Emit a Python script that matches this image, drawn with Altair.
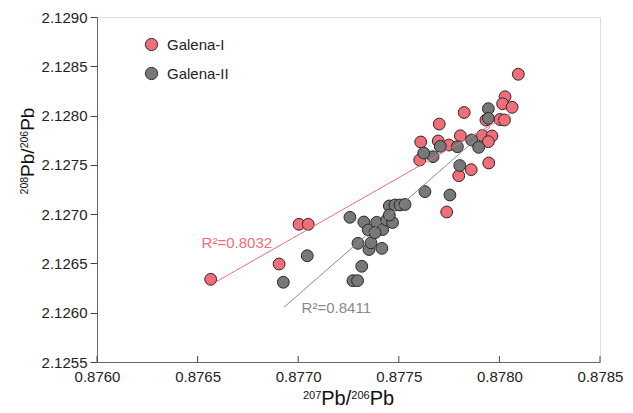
import altair as alt
import pandas as pd

# Galena-I (red)
g1_x = [0.876565, 0.876905, 0.877004, 0.877050, 0.878094, 0.878028, 0.878016, 0.878063,
        0.877825, 0.877701, 0.877933, 0.878003, 0.878025, 0.877806, 0.877916, 0.877963,
        0.877945, 0.877696, 0.877749, 0.877609, 0.877604, 0.877947, 0.877860, 0.877798,
        0.877738]
g1_y = [2.126339, 2.126494, 2.126897, 2.126897, 2.128419, 2.128191, 2.128120, 2.128084,
        2.128031, 2.127914, 2.127955, 2.127960, 2.127955, 2.127795, 2.127798, 2.127793,
        2.127735, 2.127742, 2.127701, 2.127732, 2.127549, 2.127519, 2.127451, 2.127390,
        2.127022]

# Galena-II (gray)
g2_x = [0.876926, 0.877045, 0.877257, 0.877316, 0.877272, 0.877295, 0.877297, 0.877352,
        0.877416, 0.877362, 0.877326, 0.877348, 0.877390, 0.877420, 0.877382, 0.877440,
        0.877469, 0.877453, 0.877481, 0.877506, 0.877531, 0.877453, 0.877630, 0.877754,
        0.877945, 0.877945, 0.877706, 0.877670, 0.877624, 0.877862, 0.877897, 0.877803,
        0.877791]
g2_y = [2.126309, 2.126578, 2.126968, 2.126471, 2.126325, 2.126325, 2.126704, 2.126641,
        2.126653, 2.126709, 2.126920, 2.126839, 2.126917, 2.126844, 2.126812, 2.126941,
        2.126915, 2.127083, 2.127093, 2.127093, 2.127098, 2.126991, 2.127228, 2.127194,
        2.128070, 2.127972, 2.127688, 2.127583, 2.127620, 2.127752, 2.127678, 2.127493,
        2.127684]

groups = ["Galena-I", "Galena-II"]
colors = ["#F06E78", "#77787A"]
line_colors = ["#F06E78", "#8A8A8A"]
fit_extent_1 = [0.876595, 0.878053]
fit_extent_2 = [0.876929, 0.877953]

r2_labels = ["R\u00b2=0.8032", "R\u00b2=0.8411"]
r2_x = [0.876520, 0.877017]
r2_y = [2.126707, 2.126051]

x_ticks = [0.8760, 0.8765, 0.8770, 0.8775, 0.8780, 0.8785]
y_ticks = [2.1255, 2.1260, 2.1265, 2.1270, 2.1275, 2.1280, 2.1285, 2.1290]

# axis title pieces: (text, is_superscript)
x_title = [("207", True), ("Pb/", False), ("206", True), ("Pb", False)]
y_title = [("208", True), ("Pb/", False), ("206", True), ("Pb", False)]

df = pd.DataFrame({
    "x": g1_x + g2_x,
    "y": g1_y + g2_y,
    "group": [groups[0]] * len(g1_x) + [groups[1]] * len(g2_x),
})
df_lab = pd.DataFrame({"x": r2_x, "y": r2_y, "label": r2_labels, "group": groups})
df_ticks = pd.DataFrame({"x": x_ticks})

W, H = 503, 345
FONT = "Liberation Sans"

xscale = alt.Scale(domain=[0.8760, 0.8785], nice=False, zero=False)
yscale = alt.Scale(domain=[2.1255, 2.1290], nice=False, zero=False)

xaxis = alt.Axis(values=x_ticks, format=".4f", ticks=False, tickSize=0, labelPadding=7,
                 grid=False, title=None, labelFontSize=15, labelFont=FONT,
                 labelColor="#222", domainColor="#666", labelFlush=False)
yaxis = alt.Axis(values=y_ticks, format=".4f", tickSize=7, labelPadding=3, grid=False,
                 title=None, labelFontSize=15, labelFont=FONT,
                 labelColor="#222", domainColor="#666", tickColor="#444", labelFlush=False)

base = alt.Chart(df)

points = base.mark_circle(size=140, opacity=1, stroke="#2a2a2a", strokeWidth=1).encode(
    x=alt.X("x:Q", scale=xscale, axis=xaxis),
    y=alt.Y("y:Q", scale=yscale, axis=yaxis),
    color=alt.Color("group:N", scale=alt.Scale(domain=groups, range=colors),
                    legend=alt.Legend(title=None, orient="none", legendX=47, legendY=20,
                                      symbolType="circle", symbolSize=150,
                                      symbolStrokeColor="#2a2a2a", symbolStrokeWidth=1,
                                      labelFontSize=15, labelFont=FONT, labelColor="#222",
                                      labelOffset=8, rowPadding=12, padding=0)),
    order=alt.Order("group:N", sort="ascending"),
)

fit1 = alt.Chart(df[df.group == groups[0]]).transform_regression(
    "x", "y", extent=fit_extent_1
).mark_line(color=line_colors[0], strokeWidth=1).encode(
    x=alt.X("x:Q", scale=xscale), y=alt.Y("y:Q", scale=yscale))
fit2 = alt.Chart(df[df.group == groups[1]]).transform_regression(
    "x", "y", extent=fit_extent_2
).mark_line(color=line_colors[1], strokeWidth=1).encode(
    x=alt.X("x:Q", scale=xscale), y=alt.Y("y:Q", scale=yscale))

labels = alt.Chart(df_lab).mark_text(align="left", baseline="middle", fontSize=15,
                                     font=FONT).encode(
    x=alt.X("x:Q", scale=xscale), y=alt.Y("y:Q", scale=yscale),
    text="label:N",
    color=alt.Color("group:N", scale=alt.Scale(domain=groups, range=["#F06E78", "#8A8A8A"]),
                    legend=None),
)

xticks = alt.Chart(df_ticks).mark_rule(color="#444", strokeWidth=1).encode(
    x=alt.X("x:Q", scale=xscale), y=alt.value(H), y2=alt.value(H - 6))

# --- axis titles with real superscripts (Liberation Sans advance widths) ---
ADV = {"P": 0.667, "b": 0.556, "/": 0.278}


def text_w(s, size):
    return sum(ADV.get(c, 0.556) for c in s) * size


def title_layers(pieces, main, sup, center, base_pos, vertical):
    total = sum(text_w(t, sup if s else main) for t, s in pieces)
    pos = center - total / 2 if not vertical else center + total / 2
    shift = main * 0.716 - sup * 0.716
    out = []
    for t, s in pieces:
        size = sup if s else main
        if not vertical:
            xv, yv = pos, base_pos - (shift if s else 0)
            ch = alt.Chart(pd.DataFrame({"t": [t]})).mark_text(
                align="left", baseline="alphabetic", fontSize=size, font=FONT, color="#111"
            ).encode(text="t:N", x=alt.value(xv), y=alt.value(yv))
            pos += text_w(t, size)
        else:
            xv, yv = base_pos - (shift if s else 0), pos
            ch = alt.Chart(pd.DataFrame({"t": [t]})).mark_text(
                align="left", baseline="alphabetic", fontSize=size, font=FONT,
                color="#111", angle=270
            ).encode(text="t:N", x=alt.value(xv), y=alt.value(yv))
            pos -= text_w(t, size)
        out.append(ch)
    return out


xt = title_layers(x_title, 20, 11, W / 2, 388, vertical=False)
yt = title_layers(y_title, 19, 10.5, 134, -63, vertical=True)

chart = alt.layer(points, fit1, fit2, labels, xticks, *xt, *yt).resolve_scale(
    color="independent").properties(
    width=W, height=H,
    autosize=alt.AutoSizeParams(type="none"),
    padding={"left": 97, "top": 17, "right": 33, "bottom": 51},
).configure_view(stroke="#666", strokeWidth=1).configure(background="white")

chart.save("out.html", embed_options={"renderer": "svg", "actions": False})
